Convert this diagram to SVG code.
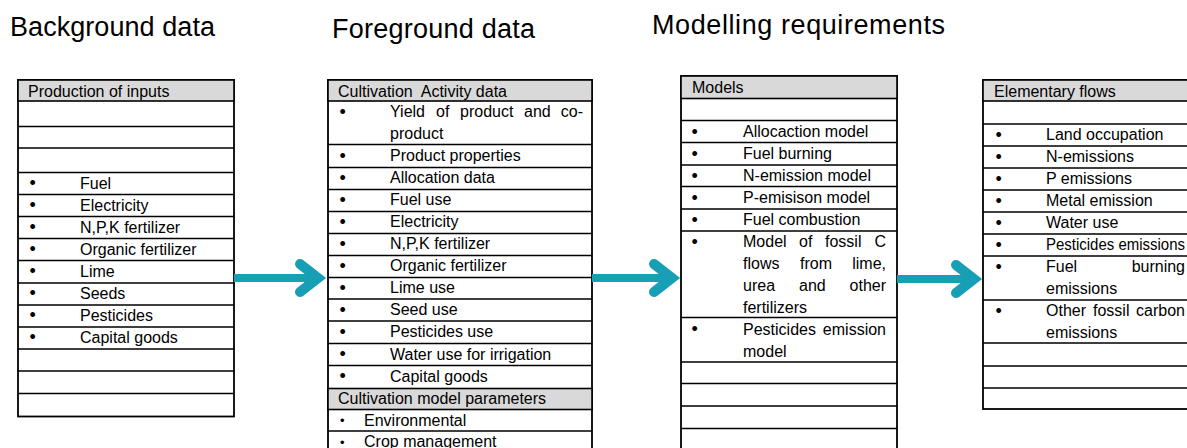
<svg xmlns="http://www.w3.org/2000/svg" width="1187" height="448" viewBox="0 0 1187 448">
<style>
text{font-family:"Liberation Sans",Arial,sans-serif;fill:#000}
.title{font-size:27px}
.t{font-size:16px}
.e{text-anchor:end}
.b{font-size:18px}
.bs{font-size:13px}
.hdr{fill:#d9d9d9;stroke:#000;stroke-width:1.6}
.box{fill:#fff;stroke:#000;stroke-width:1.8}
.ln{fill:none;stroke:#000;stroke-width:1.6}
.shaft{fill:none;stroke:#179fb5;stroke-width:8}
.head{fill:none;stroke:#179fb5;stroke-width:10;stroke-linecap:round;stroke-linejoin:miter}
</style>
<rect width="1187" height="448" fill="#fff"/>
<g id="titles">
<text class="title" x="10" y="36" textLength="205">Background data</text>
<text class="title" x="332" y="38" textLength="203">Foreground data</text>
<text class="title" x="652" y="34" textLength="293">Modelling requirements</text>
</g>
<g id="background-data">
<rect class="box" x="18" y="80" width="216" height="336.5"/>
<rect class="hdr" x="18" y="80" width="216" height="21"/>
<path class="ln" d="M18 126.5H234M18 148H234M18 172.5H234M18 194.5H234M18 216.5H234M18 238.5H234M18 260.5H234M18 283H234M18 305H234M18 327H234M18 349H234M18 371H234M18 393.5H234"/>
<text class="t" x="28" y="96.5">Production of inputs</text>
<g class="b" transform="translate(-0.5,0.8)">
<text x="30" y="188.5">•</text><text x="30" y="210.5">•</text><text x="30" y="232.5">•</text><text x="30" y="254.5">•</text><text x="30" y="276.5">•</text><text x="30" y="298.5">•</text><text x="30" y="320.5">•</text><text x="30" y="342.5">•</text>
</g>
<text class="t" x="80" y="188.5">Fuel</text>
<text class="t" x="80" y="210.5">Electricity</text>
<text class="t" x="80" y="232.5">N,P,K fertilizer</text>
<text class="t" x="80" y="254.5">Organic fertilizer</text>
<text class="t" x="80" y="276.5">Lime</text>
<text class="t" x="80" y="298.5">Seeds</text>
<text class="t" x="80" y="320.5">Pesticides</text>
<text class="t" x="80" y="342.5">Capital goods</text>
</g>
<g id="foreground-data">
<rect class="box" x="328" y="80" width="264" height="380"/>
<rect class="hdr" x="328" y="80" width="264" height="21"/>
<rect class="hdr" x="328" y="388.5" width="264" height="21"/>
<path class="ln" d="M328 144.5H592M328 167.5H592M328 189.5H592M328 211.5H592M328 233.5H592M328 255.5H592M328 277.5H592M328 299H592M328 321H592M328 343.5H592M328 365.5H592M328 431H592"/>
<text class="t" x="338" y="96.5" style="white-space:pre">Cultivation  Activity data</text>
<g class="b" transform="translate(-0.5,0.8)">
<text x="340" y="117">•</text><text x="340" y="161">•</text><text x="340" y="183">•</text><text x="340" y="205">•</text><text x="340" y="227">•</text><text x="340" y="249">•</text><text x="340" y="271">•</text><text x="340" y="293">•</text><text x="340" y="315">•</text><text x="340" y="337">•</text><text x="340" y="359.5">•</text><text x="340" y="381.5">•</text>
</g>
<text class="t" x="390" y="117">Yield</text>
<text class="t" x="436" y="117">of</text>
<text class="t" x="460" y="117">product</text>
<text class="t" x="524" y="117">and</text>
<text class="t e" x="583" y="117">co-</text>
<text class="t" x="390" y="139">product</text>
<text class="t" x="390" y="161">Product properties</text>
<text class="t" x="390" y="183">Allocation data</text>
<text class="t" x="390" y="205">Fuel use</text>
<text class="t" x="390" y="227">Electricity</text>
<text class="t" x="390" y="249">N,P,K fertilizer</text>
<text class="t" x="390" y="271">Organic fertilizer</text>
<text class="t" x="390" y="293">Lime use</text>
<text class="t" x="390" y="315">Seed use</text>
<text class="t" x="390" y="337">Pesticides use</text>
<text class="t" x="390" y="359.5">Water use for irrigation</text>
<text class="t" x="390" y="381.5">Capital goods</text>
<text class="t" x="338" y="404">Cultivation model parameters</text>
<g class="bs"><text x="340" y="425">•</text><text x="340" y="446.5">•</text></g>
<text class="t" x="364" y="425.5">Environmental</text>
<text class="t" x="364" y="447">Crop management</text>
</g>
<g id="modelling-requirements">
<rect class="box" x="681" y="76" width="216" height="384"/>
<rect class="hdr" x="681" y="76" width="216" height="22.5"/>
<path class="ln" d="M681 120.5H897M681 142.5H897M681 165H897M681 186.5H897M681 209H897M681 231H897M681 317.5H897M681 362H897M681 383.5H897M681 406H897M681 428.5H897"/>
<text class="t" x="692" y="92.5">Models</text>
<g class="b" transform="translate(-0.5,0.8)">
<text x="692" y="137">•</text><text x="692" y="159">•</text><text x="692" y="181">•</text><text x="692" y="203">•</text><text x="692" y="225">•</text><text x="692" y="247">•</text><text x="692" y="334.5">•</text>
</g>
<text class="t" x="743" y="137">Allocaction model</text>
<text class="t" x="743" y="159">Fuel burning</text>
<text class="t" x="743" y="181">N-emission model</text>
<text class="t" x="743" y="203">P-emisison model</text>
<text class="t" x="743" y="225">Fuel combustion</text>
<text class="t" x="743" y="247">Model</text>
<text class="t" x="799" y="247">of</text>
<text class="t" x="825" y="247">fossil</text>
<text class="t e" x="886" y="247">C</text>
<text class="t" x="743" y="269">flows</text>
<text class="t" x="800" y="269">from</text>
<text class="t e" x="886" y="269">lime,</text>
<text class="t" x="743" y="291">urea</text>
<text class="t" x="799" y="291">and</text>
<text class="t e" x="886" y="291">other</text>
<text class="t" x="743" y="313">fertilizers</text>
<text class="t" x="743" y="334.5">Pesticides</text>
<text class="t e" x="886" y="334.5">emission</text>
<text class="t" x="743" y="356.5">model</text>
</g>
<g id="elementary-flows">
<rect class="box" x="983" y="80" width="230" height="329"/>
<rect class="hdr" x="983" y="80" width="230" height="21"/>
<path class="ln" d="M983 124H1213M983 146H1213M983 168H1213M983 190H1213M983 212H1213M983 234H1213M983 256H1213M983 300H1213M983 343H1213M983 366H1213M983 388H1213"/>
<text class="t" x="994" y="96.5">Elementary flows</text>
<g class="b" transform="translate(-0.5,0.8)">
<text x="996" y="140">•</text><text x="996" y="162">•</text><text x="996" y="184">•</text><text x="996" y="206">•</text><text x="996" y="228">•</text><text x="996" y="250">•</text><text x="996" y="272">•</text><text x="996" y="316">•</text>
</g>
<text class="t" x="1046" y="140">Land occupation</text>
<text class="t" x="1046" y="162">N-emissions</text>
<text class="t" x="1046" y="184">P emissions</text>
<text class="t" x="1046" y="206">Metal emission</text>
<text class="t" x="1046" y="228">Water use</text>
<text class="t" x="1046" y="250" textLength="139" lengthAdjust="spacingAndGlyphs">Pesticides emissions</text>
<text class="t" x="1046" y="272">Fuel</text>
<text class="t e" x="1185" y="272">burning</text>
<text class="t" x="1046" y="294">emissions</text>
<text class="t" x="1046" y="316">Other</text>
<text class="t" x="1093" y="316">fossil</text>
<text class="t e" x="1185" y="316">carbon</text>
<text class="t" x="1046" y="338">emissions</text>
</g>
<g id="connectors">
<path class="shaft" d="M234 278H318"/>
<path class="head" d="M300 264L318 278L300 292"/>
<path class="shaft" d="M592 278H672"/>
<path class="head" d="M654 264L672 278L654 292"/>
<path class="shaft" d="M897 279H974"/>
<path class="head" d="M956 265L974 279L956 293"/>
</g>
</svg>
